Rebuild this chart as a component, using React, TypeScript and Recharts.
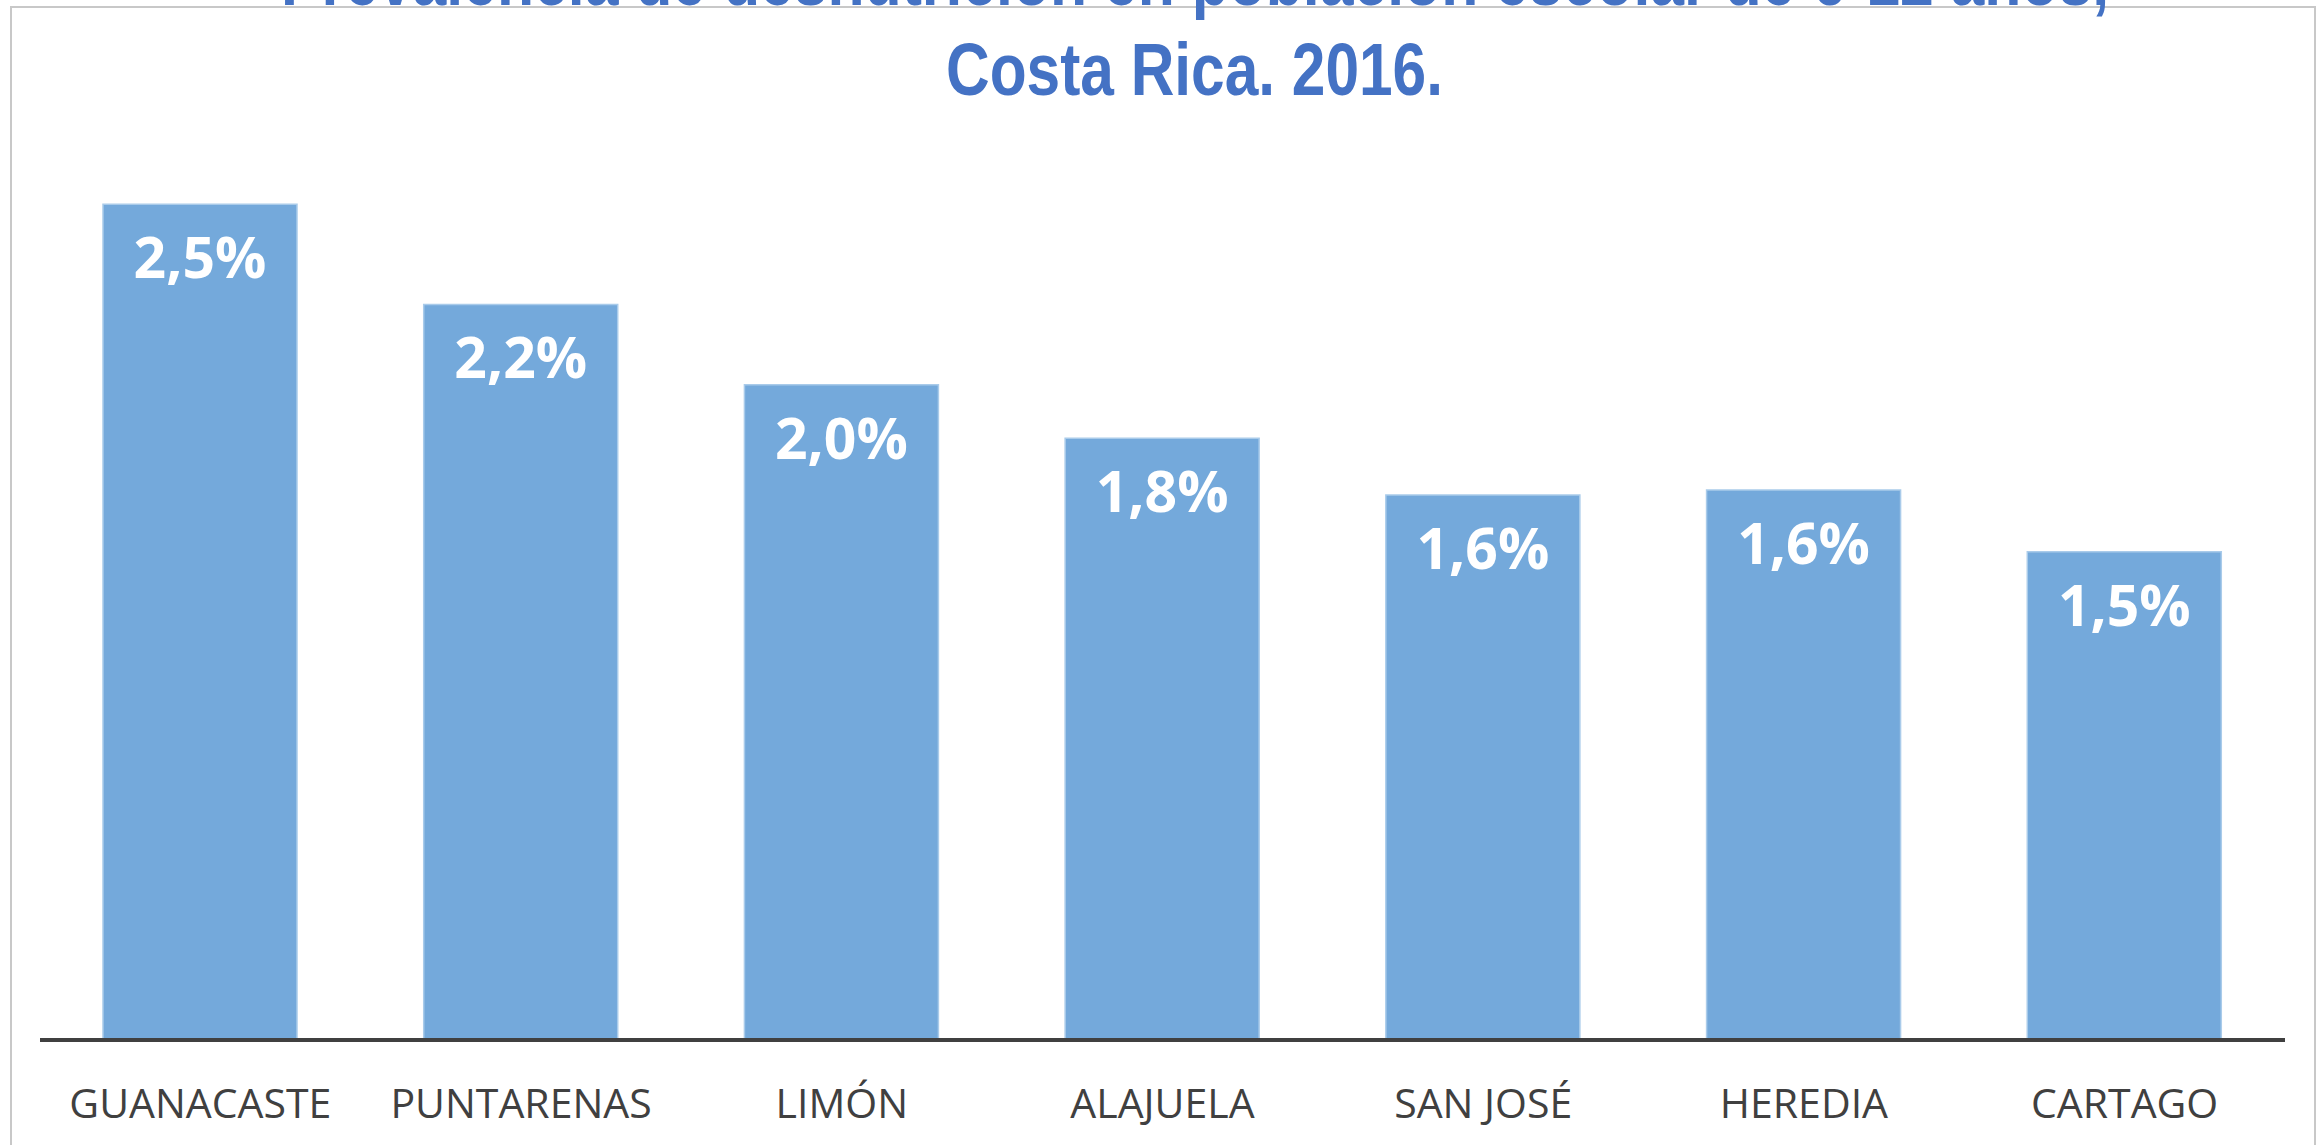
import { BarChart, Bar, XAxis, YAxis, LabelList } from "recharts";

const provinces = ["GUANACASTE", "PUNTARENAS", "LIMÓN", "ALAJUELA", "SAN JOSÉ", "HEREDIA", "CARTAGO"];
const prevalence = [2.5, 2.2, 1.96, 1.8, 1.63, 1.645, 1.46];
const titleLines = [
  "Prevalencia de desnutrición en población escolar de 6-12 años,",
  "Costa Rica. 2016.",
];

const data = provinces.map((name, i) => ({ name, value: prevalence[i] }));

const W = 2320;
const H = 1145;

const fmt = (v: number) => v.toFixed(1).replace(".", ",") + "%";

function BarLabel(props: any) {
  const { x, y, width, value } = props;
  return (
    <text
      x={x + width / 2}
      y={y + 74}
      textAnchor="middle"
      fill="#ffffff"
      fontFamily="'Open Sans', sans-serif"
      fontWeight={700}
      fontSize={57}
    >
      {fmt(value)}
    </text>
  );
}

export default function App() {
  return (
    <div style={{ position: "absolute", left: 0, top: 0, width: W, height: H, background: "#fff" }}>
      <BarChart
        width={W}
        height={H}
        data={data}
        margin={{ top: 37, right: 35, bottom: 0, left: 40 }}
      >
        <XAxis
          dataKey="name"
          height={105}
          tickLine={false}
          tickMargin={43}
          axisLine={{ stroke: "#404040", strokeWidth: 4 }}
          tick={{ fill: "#404040", fontSize: 41, fontFamily: "'Open Sans', sans-serif" }}
          interval={0}
        />
        <YAxis hide domain={[0, 3]} />
        <Bar
          dataKey="value"
          fill="#74A9DB"
          stroke="#A9CBEA"
          strokeWidth={1.5}
          barSize={194}
          isAnimationActive={false}
        >
          <LabelList dataKey="value" content={BarLabel} />
        </Bar>
      </BarChart>
      <svg
        width={W}
        height={H}
        style={{ position: "absolute", left: 0, top: 0, pointerEvents: "none" }}
      >
        <rect x={11} y={7} width={2304} height={1200} fill="none" stroke="#C8C8C8" strokeWidth={2} />
        <text
          x={281}
          y={5}
          textLength={1828}
          lengthAdjust="spacingAndGlyphs"
          fill="#4472C4"
          fontFamily="'Liberation Sans', Arial, sans-serif"
          fontWeight={700}
          fontSize={75}
        >
          {titleLines[0]}
        </text>
        <text
          x={946}
          y={95}
          textLength={497}
          lengthAdjust="spacingAndGlyphs"
          fill="#4472C4"
          fontFamily="'Liberation Sans', Arial, sans-serif"
          fontWeight={700}
          fontSize={75}
        >
          {titleLines[1]}
        </text>
      </svg>
    </div>
  );
}
